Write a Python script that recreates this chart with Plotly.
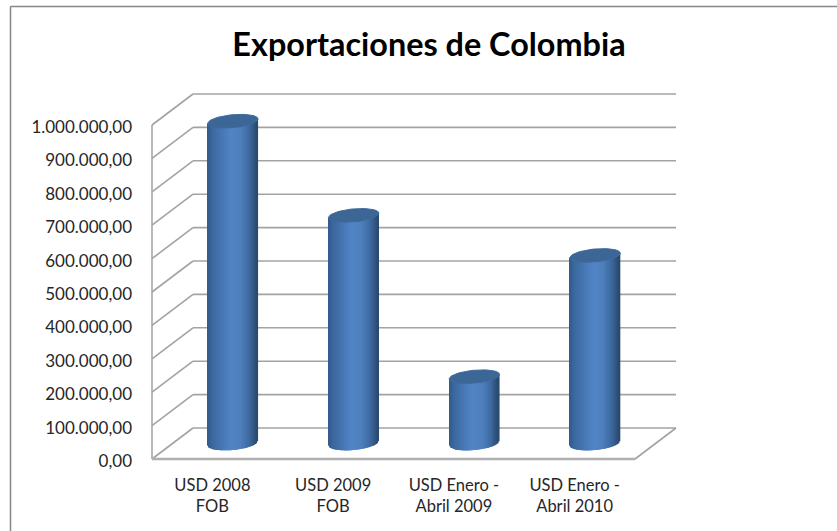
import numpy as np
import plotly.graph_objects as go

categories = ["USD 2008<br>FOB", "USD 2009<br>FOB", "USD Enero -<br>Abril 2009", "USD Enero -<br>Abril 2010"]
values = [965000, 683000, 200000, 563000]
tick_values = [0, 100000, 200000, 300000, 400000, 500000, 600000, 700000, 800000, 900000, 1000000]
tick_labels = ["0,00", "100.000,00", "200.000,00", "300.000,00", "400.000,00", "500.000,00",
               "600.000,00", "700.000,00", "800.000,00", "900.000,00", "1.000.000,00"]

W, H = 837, 531
# Front-plane pixel frame of the value axis and category axis
AXIS_LEFT, AXIS_BASE, UNIT_Y = 152, 459, 334 / 1e6
UNIT_X = 120.75
PLOT_L, PLOT_R, PLOT_T, PLOT_B = 149, 680, 88, 462

x_of = lambda px: (px - AXIS_LEFT) / UNIT_X - 0.5
y_of = lambda py: (AXIS_BASE - py) / UNIT_Y

# Oblique depth of the box, in axis units
DEPTH_X = 41 / UNIT_X
DEPTH_Y = 31 / UNIT_Y
X0, X1 = -0.5, 3.5
GRID = "#a3a3a3"


def seg(x0, y0, x1, y1, color=GRID, width=1.6):
    return dict(type="line", xref="x", yref="y", layer="below", x0=x0, y0=y0, x1=x1, y1=y1,
                line=dict(color=color, width=width))


shapes = [seg(X0, 0, X0, tick_values[-1], "#a8a8a8", 1.6)]
for t in tick_values:
    shapes.append(seg(X0, t, X0 + DEPTH_X, t + DEPTH_Y))
    shapes.append(seg(X0 + DEPTH_X, t + DEPTH_Y, X1 + DEPTH_X, t + DEPTH_Y))
shapes.append(seg(X0, 0, X1, 0, "#b0b0b0", 2.4))
shapes.append(seg(X1, 0, X1 + DEPTH_X, DEPTH_Y))

# Outer chart frame, top and left edges only
shapes.append(dict(type="line", xref="paper", yref="paper", layer="above",
                   x0=(10.5 - PLOT_L) / (PLOT_R - PLOT_L), x1=(W - PLOT_L) / (PLOT_R - PLOT_L),
                   y0=(PLOT_B - 6.5) / (PLOT_B - PLOT_T), y1=(PLOT_B - 6.5) / (PLOT_B - PLOT_T),
                   line=dict(color="#868686", width=1.5)))
shapes.append(dict(type="line", xref="paper", yref="paper", layer="above",
                   x0=(10.5 - PLOT_L) / (PLOT_R - PLOT_L), x1=(10.5 - PLOT_L) / (PLOT_R - PLOT_L),
                   y0=(PLOT_B - 6.5) / (PLOT_B - PLOT_T), y1=(PLOT_B - H) / (PLOT_B - PLOT_T),
                   line=dict(color="#868686", width=1.5)))

# Cylinder shading across its width: position, then RGB
STOPS_U = [-1.0, -0.85, -0.45, -0.05, 0.35, 0.7, 0.9, 1.0]
STOPS_RGB = np.array([[50, 90, 140], [58, 102, 156], [70, 118, 178], [82, 133, 198],
                      [78, 128, 190], [62, 106, 160], [50, 86, 130], [42, 74, 112]])

RADIUS = 25.2 / UNIT_X
MINOR = 6.5 / UNIT_Y
TILT = 2.2 / UNIT_Y
N = 51
SLICE = 2 * RADIUS / (N - 1) * 1.7
u = np.linspace(-1, 1, N)
shade = ["rgb(%d,%d,%d)" % tuple(np.interp(a, STOPS_U, STOPS_RGB[:, k]) for k in range(3)) for a in u]

sx, sy, sbase, scol = [], [], [], []
for i, v in enumerate(values):
    cx = i + DEPTH_X / 2
    for a, col in zip(u, shade):
        arc = MINOR * np.sqrt(1 - a * a)
        sx.append(cx + a * (RADIUS - SLICE / 2))
        sbase.append(DEPTH_Y / 2 + TILT * a - arc)
        sy.append(v + arc)
        scol.append(col)

fig = go.Figure()
fig.add_trace(go.Bar(x=sx, y=sy, base=sbase, width=SLICE,
                     marker=dict(color=scol, line=dict(width=0)),
                     showlegend=False, hoverinfo="skip"))

# Top caps of the cylinders
t = np.linspace(0, 2 * np.pi, 90)
for i, v in enumerate(values):
    cx = i + DEPTH_X / 2
    cy = v + DEPTH_Y / 2
    fig.add_trace(go.Scatter(x=cx + RADIUS * np.cos(t),
                             y=cy + TILT * np.cos(t) + MINOR * np.sin(t),
                             mode="lines", fill="toself", fillcolor="#3c6696",
                             line=dict(color="#3f6a9c", width=1),
                             showlegend=False, hoverinfo="skip"))

FONT = "Lato, Carlito, Calibri, sans-serif"
fig.update_layout(
    width=W, height=H, autosize=False,
    margin=dict(l=PLOT_L, r=W - PLOT_R, t=PLOT_T, b=H - PLOT_B, pad=0),
    paper_bgcolor="white", plot_bgcolor="white",
    barmode="overlay", shapes=shapes,
    title=dict(text="<b>Exportaciones de Colombia</b>", x=429 / W, xanchor="center", xref="container",
               y=1 - 45 / H, yanchor="middle", yref="container",
               font=dict(family=FONT, size=32.4, color="#000000")),
    xaxis=dict(range=[x_of(PLOT_L), x_of(PLOT_R)], tickmode="array", tickvals=list(range(len(categories))),
               ticktext=categories, showgrid=False, zeroline=False, showline=False, ticks="",
               ticklabelstandoff=11, tickangle=0, tickfont=dict(family=FONT, size=16.5, color="#262626")),
    yaxis=dict(range=[y_of(PLOT_B), y_of(PLOT_T)], tickmode="array", tickvals=tick_values,
               ticktext=tick_labels, showgrid=False, zeroline=False, showline=False, ticks="",
               ticklabelstandoff=16, ticklabelshift=2,
               tickfont=dict(family=FONT, size=17, color="#262626")),
)
fig.write_html("out.html")
